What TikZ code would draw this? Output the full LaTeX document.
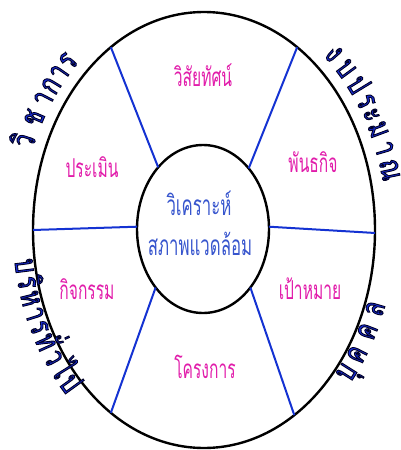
\documentclass[tikz,border=0pt]{standalone}
\usepackage{fontspec}
\usetikzlibrary{shapes.geometric}
\newfontfamily\thaicond[Script=Thai,FakeStretch=0.6]{Loma}
\newfontfamily\thaiw[Script=Thai,FakeStretch=0.7]{Loma}
\definecolor{pinkc}{RGB}{225,28,170}
\definecolor{cblue}{RGB}{55,85,205}
\definecolor{spokec}{RGB}{20,50,210}
\definecolor{cornerc}{RGB}{25,45,215}
\newcommand\outl[1]{\special{pdf:literal direct 0 0 0.15 RG 2 Tr 0.9 w}#1\special{pdf:literal direct 0 Tr}}
\newcommand\arcTop[3]{\node[cornertxt, rotate={atan2(-230*cos(#2),183*sin(#2))}] (#1) at ({204+183*cos(#2)},{-230+230*sin(#2)}) {\outl{#3}};}
\newcommand\arcBot[3]{\node[cornertxt, rotate={atan2(238*cos(#2),-191*sin(#2))}] (#1) at ({204+191*cos(#2)},{-230+238*sin(#2)}) {\outl{#3}};}
\begin{document}
\begin{tikzpicture}[x=1pt,y=1pt,
  ring/.style={draw=black, line width=2.4pt, ellipse, inner sep=0pt, outer sep=0pt},
  spoke/.style={draw=spokec, line width=2pt},
  pinklbl/.style={text=pinkc, font=\thaicond\fontsize{26}{30}\selectfont, anchor=base, inner sep=0pt},
  ctr/.style={text=cblue, font=\thaicond\fontsize{28}{32}\selectfont, anchor=base, inner sep=0pt},
  cornertxt/.style={text=cornerc, font=\thaiw\fontsize{32}{36}\selectfont, anchor=base, inner sep=0pt}]
\useasboundingbox (0,0) rectangle (400,-450);
\node[ring, minimum width=342pt, minimum height=436pt] (out) at (204,-230) {};
\node[ring, minimum width=132pt, minimum height=168pt] (in) at (203,-229) {};
\draw[spoke] (in.126.6) -- (out.117.7);
\draw[spoke] (in.53.4) -- (out.63.4);
\draw[spoke] (in.231.6) -- (out.243.3);
\draw[spoke] (in.309) -- (out.296.2);
\draw[spoke] (in.178.3) -- (out.180);
\draw[spoke] (in.2.6) -- (out.359.7);
\node[ctr] (c1) at (199,-215) {วิเคราะห์};
\node[ctr] (c2) at (200,-255) {สภาพแวดล้อม};
\node[pinklbl] (l1) at (203,-86) {วิสัยทัศน์};
\node[pinklbl] (l2) at (313,-172) {พันธกิจ};
\node[pinklbl] (l3) at (92,-177) {ประเมิน};
\node[pinklbl] (l4) at (87,-299) {กิจกรรม};
\node[pinklbl] (l5) at (310,-299) {เป้าหมาย};
\node[pinklbl] (l6) at (205,-378) {โครงการ};
% top-left
\arcTop{a1}{158.0}{วิ}
\arcTop{a2}{151.9}{ช}
\arcTop{a3}{146.6}{า}
\arcTop{a4}{142.6}{ก}
\arcTop{a5}{138.7}{า}
\arcTop{a6}{134.8}{ร}
% top-right
\arcTop{b1}{47.8}{ง}
\arcTop{b2}{42.7}{บ}
\arcTop{b3}{37.5}{ป}
\arcTop{b4}{32.8}{ร}
\arcTop{b5}{29.1}{ะ}
\arcTop{b6}{25.0}{ม}
\arcTop{b7}{20.2}{า}
\arcTop{b8}{14.7}{ณ}
% bottom-left
\arcBot{d1}{189.0}{บ}
\arcBot{d2}{193.2}{ริ}
\arcBot{d3}{197.3}{ห}
\arcBot{d4}{201.3}{า}
\arcBot{d5}{205.0}{ร}
\arcBot{d6}{209.2}{ทั่}
\arcBot{d7}{213.8}{ว}
\arcBot{d8}{217.9}{ไ}
\arcBot{d9}{222.0}{ป}
% bottom-right
\arcBot{e1}{321.8}{บุ}
\arcBot{e2}{327.3}{ค}
\arcBot{e3}{333.9}{ค}
\arcBot{e4}{340.0}{ล}
\end{tikzpicture}
\end{document}
